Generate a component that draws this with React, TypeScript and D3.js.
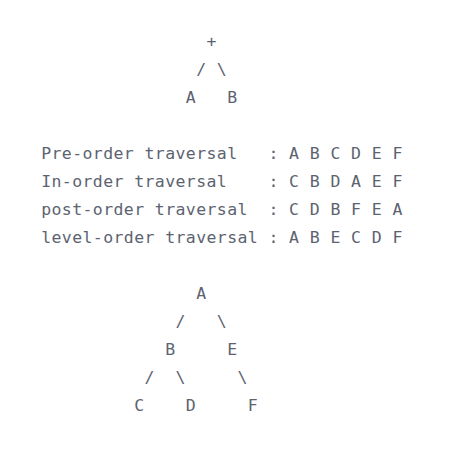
import { useEffect, useRef } from 'react';
import * as d3 from 'd3';

// text block, one string per row (monospace layout)
const topTree = [
  '                +',
  '               / \\',
  '              A   B',
];
const traversalNames = ['Pre-order traversal', 'In-order traversal', 'post-order traversal', 'level-order traversal'];
const traversalOrders = [
  ['A', 'B', 'C', 'D', 'E', 'F'],
  ['C', 'B', 'D', 'A', 'E', 'F'],
  ['C', 'D', 'B', 'F', 'E', 'A'],
  ['A', 'B', 'E', 'C', 'D', 'F'],
];
const bottomTree = [
  '               A',
  '             /   \\',
  '            B     E',
  '          /  \\     \\',
  '         C    D     F',
];

const App = () => {
  const svgRef = useRef(null);

  useEffect(() => {
    const svg = d3.select(svgRef.current);
    svg.selectAll('*').remove();

    const traversalLines = traversalNames.map((n, i) => n.padEnd(22, ' ') + ': ' + traversalOrders[i].join(' '));
    const lines = [...topTree, '', ...traversalLines, '', ...bottomTree];

    const width = 473;
    const height = 471;
    svg.attr('width', width).attr('height', height);

    // column -> left edge x, row -> baseline y
    const xScale = d3.scaleLinear().domain([0, 1]).range([41, 41 + 10.33]);
    const yScale = d3.scaleLinear().domain([0, 1]).range([47, 47 + 28]);

    const chars = [];
    lines.forEach((line, r) => {
      line.split('').forEach((ch, c) => {
        if (ch !== ' ') chars.push({ ch, r, c });
      });
    });

    svg.append('g')
      .selectAll('text')
      .data(chars)
      .enter()
      .append('text')
      .attr('x', d => xScale(d.c + 0.5))
      .attr('y', d => yScale(d.r))
      .attr('text-anchor', 'middle')
      .attr('font-family', '"DejaVu Sans Mono", monospace')
      .attr('font-size', 16.5)
      .attr('fill', '#5c6370')
      .text(d => d.ch);
  }, []);

  return (
    <div style={{ position: 'absolute', left: 0, top: 0, background: '#fff' }}>
      <svg ref={svgRef} style={{ display: 'block' }}></svg>
    </div>
  );
};

export default App;
